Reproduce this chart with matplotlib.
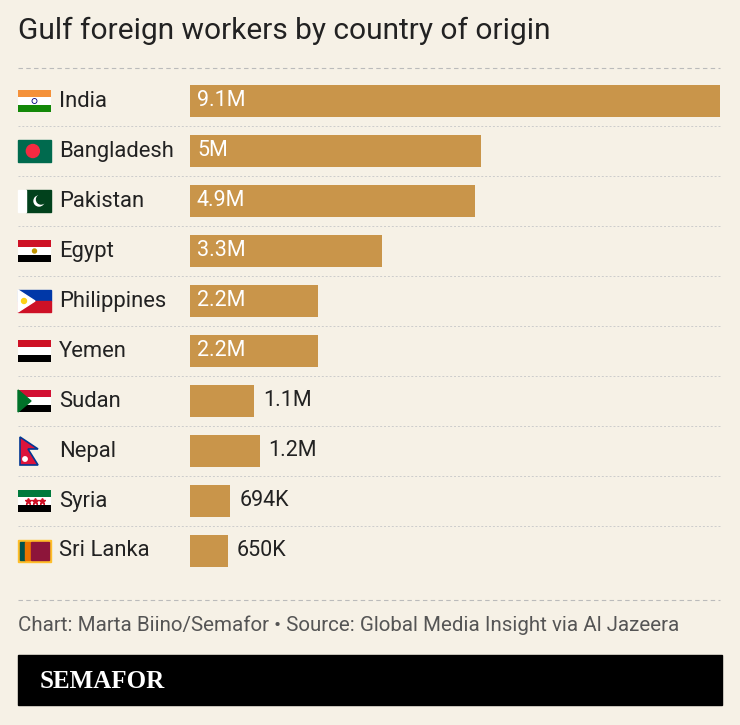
import matplotlib
matplotlib.use("Agg")
import matplotlib.pyplot as plt
from matplotlib.patches import Rectangle, Polygon, Circle

countries = ["India", "Bangladesh", "Pakistan", "Egypt", "Philippines", "Yemen", "Sudan", "Nepal", "Syria", "Sri Lanka"]
values = [9.1, 5.0, 4.9, 3.3, 2.2, 2.2, 1.1, 1.2, 0.694, 0.650]
labels = ["9.1M", "5M", "4.9M", "3.3M", "2.2M", "2.2M", "1.1M", "1.2M", "694K", "650K"]

BG = "#f6f1e6"
BAR = "#c9954a"
TXT = "#222222"
W, H = 740, 725
plt.rcParams['font.family'] = ['Roboto', 'DejaVu Sans']
fig = plt.figure(figsize=(W/100, H/100), dpi=100, facecolor=BG)

ov = fig.add_axes([0, 0, 1, 1])
ov.set_xlim(0, W); ov.set_ylim(H, 0); ov.axis("off")
ov.patch.set_alpha(0)

ov.text(18, 31, "Gulf foreign workers by country of origin", fontsize=21.5, color=TXT, va="center")
ov.plot([18, 720], [68, 68], ls=(0, (4, 3)), color="#bbbbbb", lw=0.8)
ov.plot([18, 720], [600, 600], ls=(0, (4, 3)), color="#bbbbbb", lw=0.8)
for i in range(1, 10):
    y = 76 + 50*i
    ov.plot([18, 720], [y, y], ls=(0, (2, 2)), color="#cccccc", lw=0.7)

ax = fig.add_axes([190/W, 1-576/H, 530/W, 500/H])
ax.set_xlim(0, 9.1); ax.set_ylim(9.5, -0.5); ax.axis("off")
ax.patch.set_alpha(0)
ys = list(range(len(countries)))
ax.barh(ys, values, height=0.64, color=BAR)
for y, v, l in zip(ys, values, labels):
    if v >= 2:
        ax.text(0.12, y, l, color="white", fontsize=15.5, va="center", ha="left")
    else:
        ax.text(v + 0.15, y, l, color=TXT, fontsize=15.5, va="center", ha="left")

for i, c in enumerate(countries):
    cy = 101 + 50*i
    ov.text(59, cy, c, fontsize=15.8, color=TXT, va="center")
    x0, y0, fw, fh = 18, cy - 11, 33, 22
    def stripes(cols):
        n = len(cols)
        for k, col in enumerate(cols):
            ov.add_patch(Rectangle((x0, y0 + k*fh/n), fw, fh/n, color=col, lw=0))
    if c == "India":
        stripes(["#f4913a", "#ffffff", "#138808"])
        ov.add_patch(Circle((x0+fw/2, cy), 2.5, fill=False, ec="#000080", lw=0.6))
    elif c == "Bangladesh":
        ov.add_patch(Rectangle((x0, y0), fw, fh, color="#006a4e"))
        ov.add_patch(Circle((x0+fw*0.45, cy), 6.5, color="#f42a41"))
    elif c == "Pakistan":
        ov.add_patch(Rectangle((x0+8, y0), fw-8, fh, color="#01411c"))
        ov.add_patch(Rectangle((x0, y0), 8, fh, color="#ffffff"))
        ov.add_patch(Circle((x0+21, cy), 5, color="white"))
        ov.add_patch(Circle((x0+23, cy-1.5), 4.5, color="#01411c"))
    elif c in ("Egypt", "Yemen"):
        stripes(["#ce1126", "#ffffff", "#000000"])
        if c == "Egypt":
            ov.add_patch(Circle((x0+fw/2, cy), 2, color="#c09300"))
    elif c == "Philippines":
        ov.add_patch(Rectangle((x0, y0), fw, fh/2, color="#0038a8"))
        ov.add_patch(Rectangle((x0, cy), fw, fh/2, color="#ce1126"))
        ov.add_patch(Polygon([(x0, y0), (x0+17, cy), (x0, y0+fh)], color="white"))
        ov.add_patch(Circle((x0+6, cy), 2.5, color="#fcd116"))
    elif c == "Sudan":
        stripes(["#d21034", "#ffffff", "#000000"])
        ov.add_patch(Polygon([(x0, y0), (x0+13, cy), (x0, y0+fh)], color="#007229"))
    elif c == "Nepal":
        ov.add_patch(Polygon([(x0+2, y0-3), (x0+20, y0+9), (x0+10, y0+9), (x0+20, y0+25), (x0+2, y0+25)],
                             color="#dc143c", ec="#003893", lw=1.2))
        ov.add_patch(Circle((x0+7, y0+19), 2.2, color="white"))
    elif c == "Syria":
        stripes(["#007a3d", "#ffffff", "#000000"])
        for dx in (-7, 0, 7):
            ov.plot(x0+fw/2+dx, cy, marker="*", color="#ce1126", ms=4.5)
    elif c == "Sri Lanka":
        ov.add_patch(Rectangle((x0, y0), fw, fh, color="#ffbe29"))
        ov.add_patch(Rectangle((x0+2, y0+2), 5, fh-4, color="#00534e"))
        ov.add_patch(Rectangle((x0+7, y0+2), 5, fh-4, color="#eb7400"))
        ov.add_patch(Rectangle((x0+13, y0+2), fw-15, fh-4, color="#8d153a"))

ov.text(18, 625, "Chart: Marta Biino/Semafor \u2022 Source: Global Media Insight via Al Jazeera",
        fontsize=14.8, color="#555555", va="center")
ov.add_patch(Rectangle((18, 655), 704, 50, color="black"))
ov.text(40, 681, "SEMAFOR", fontsize=18, color="white", va="center", fontweight="bold",
        family=["Liberation Serif", "DejaVu Serif"])

fig.savefig("out.png", dpi=100, facecolor=BG)
